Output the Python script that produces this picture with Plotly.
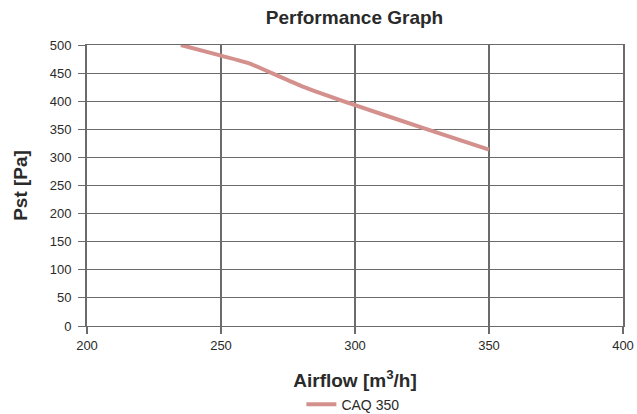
import plotly.graph_objects as go

airflow = [235, 250, 260, 280, 300, 325, 350]
pressure = [500, 481, 468, 427, 393, 353, 314]
series_name = "CAQ 350"
x_ticks = [200, 250, 300, 350, 400]
y_ticks = [0, 50, 100, 150, 200, 250, 300, 350, 400, 450, 500]

font_family = "Liberation Sans, Arial, sans-serif"
grid_col = "#6b6b6b"
text_col = "#2a2a2a"

fig = go.Figure()
fig.add_trace(go.Scatter(
    x=airflow, y=pressure, mode="lines", name=series_name,
    line=dict(color="#d4908c", width=4, shape="spline", smoothing=0.6),
))

fig.update_layout(
    width=637, height=414,
    margin=dict(l=87, r=14, t=45, b=88, autoexpand=False),
    paper_bgcolor="white", plot_bgcolor="white",
    font=dict(family=font_family, size=13, color=text_col),
    title=dict(text="<b>Performance Graph</b>", x=0.5565, xanchor="center",
               y=0.958, yanchor="middle", font=dict(size=19, color=text_col),
               automargin=False),
    showlegend=True,
    legend=dict(orientation="h", x=0.40, xanchor="left", y=-0.28, yanchor="middle",
                font=dict(size=14, color=text_col)),
)
fig.update_xaxes(
    range=[200, 400], tickvals=x_ticks, ticktext=[str(v) for v in x_ticks],
    showgrid=True, gridcolor=grid_col, gridwidth=2,
    showline=True, linecolor=grid_col, linewidth=1, mirror=True,
    ticks="outside", ticklen=7, tickwidth=2, tickcolor=grid_col,
    zeroline=False, automargin=False,
    title=dict(text="<b>Airflow [m<sup>3</sup>/h]</b>", font=dict(size=19, color=text_col), standoff=22),
)
fig.update_yaxes(
    range=[0, 500], tickvals=y_ticks, ticktext=[str(v) for v in y_ticks],
    showgrid=True, gridcolor=grid_col, gridwidth=1,
    showline=True, linecolor=grid_col, linewidth=2, mirror=True,
    ticks="outside", ticklen=7, tickwidth=1, tickcolor=grid_col,
    zeroline=False, automargin=False, ticklabelstandoff=4,
    title=dict(text="<b>Pst [Pa]</b>", font=dict(size=19, color=text_col), standoff=17),
)

fig.write_html("out.html", config={"displayModeBar": False},
               post_script="document.body.style.margin='0';")
